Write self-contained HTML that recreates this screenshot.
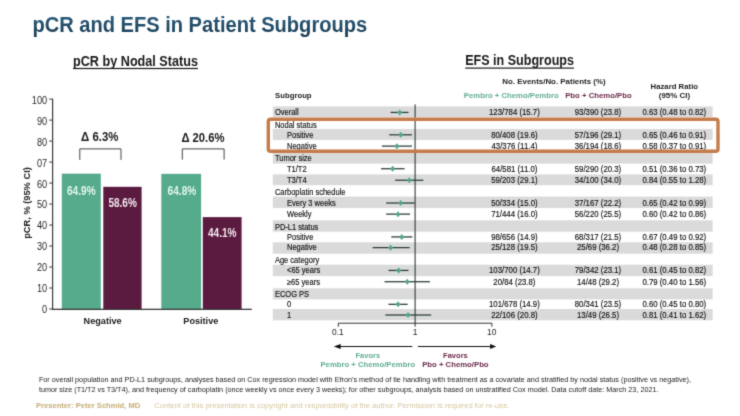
<!DOCTYPE html>
<html><head><meta charset="utf-8"><title>pCR and EFS in Patient Subgroups</title>
<style>html,body{margin:0;padding:0;background:#fff;}svg{display:block;}text{font-family:"Liberation Sans",Arial,sans-serif;}</style>
</head><body>
<svg width="740" height="416" viewBox="0 0 740 416">
<defs><filter id="soft" x="0" y="0" width="100%" height="100%" filterUnits="objectBoundingBox" color-interpolation-filters="sRGB"><feConvolveMatrix order="3" kernelMatrix="0.0192 0.1001 0.0192 0.1001 0.5228 0.1001 0.0192 0.1001 0.0192" edgeMode="duplicate" preserveAlpha="true"/></filter><linearGradient id="tg" gradientUnits="userSpaceOnUse" x1="0" y1="16" x2="0" y2="37"><stop offset="0" stop-color="#2b5b7b"/><stop offset="1" stop-color="#193c52"/></linearGradient></defs>
<g filter="url(#soft)">
<rect width="740" height="416" fill="#ffffff"/>
<text x="32.40" y="31.70" font-size="21.3" text-anchor="start" font-weight="bold" fill="url(#tg)" textLength="334.80" lengthAdjust="spacingAndGlyphs" >pCR and EFS in Patient Subgroups</text>
<text x="73.00" y="65.70" font-size="14.2" text-anchor="start" font-weight="bold" fill="#1a1a1a" textLength="125.00" lengthAdjust="spacingAndGlyphs" >pCR by Nodal Status</text>
<rect x="73" y="67.9" width="125" height="1.2" fill="#1a1a1a"/>
<text x="465.20" y="65.30" font-size="14.2" text-anchor="start" font-weight="bold" fill="#1a1a1a" textLength="108.80" lengthAdjust="spacingAndGlyphs" >EFS in Subgroups</text>
<rect x="465.2" y="67.5" width="108.8" height="1.2" fill="#1a1a1a"/>
<rect x="61.8" y="173.66" width="39.00" height="135.64" fill="#55ab8b"/>
<rect x="103.3" y="186.83" width="38.30" height="122.47" fill="#5b1a3f"/>
<rect x="161.3" y="173.87" width="39.80" height="135.43" fill="#55ab8b"/>
<rect x="202.8" y="217.13" width="38.80" height="92.17" fill="#5b1a3f"/>
<rect x="52" y="98.6" width="1.2" height="211.30" fill="#3a3a3a"/>
<rect x="52" y="308.70" width="199.80" height="1.3" fill="#3a3a3a"/>
<rect x="49.2" y="308.50" width="3" height="1" fill="#3a3a3a"/>
<text x="47.10" y="312.55" font-size="10.8" text-anchor="end" font-weight="normal" fill="#262626" textLength="5.10" lengthAdjust="spacingAndGlyphs" >0</text>
<rect x="49.2" y="287.51" width="3" height="1" fill="#3a3a3a"/>
<text x="47.10" y="291.73" font-size="10.8" text-anchor="end" font-weight="normal" fill="#262626" textLength="10.20" lengthAdjust="spacingAndGlyphs" >10</text>
<rect x="49.2" y="266.52" width="3" height="1" fill="#3a3a3a"/>
<text x="47.10" y="270.90" font-size="10.8" text-anchor="end" font-weight="normal" fill="#262626" textLength="10.20" lengthAdjust="spacingAndGlyphs" >20</text>
<rect x="49.2" y="245.53" width="3" height="1" fill="#3a3a3a"/>
<text x="47.10" y="250.08" font-size="10.8" text-anchor="end" font-weight="normal" fill="#262626" textLength="10.20" lengthAdjust="spacingAndGlyphs" >30</text>
<rect x="49.2" y="224.54" width="3" height="1" fill="#3a3a3a"/>
<text x="47.10" y="229.25" font-size="10.8" text-anchor="end" font-weight="normal" fill="#262626" textLength="10.20" lengthAdjust="spacingAndGlyphs" >40</text>
<rect x="49.2" y="203.55" width="3" height="1" fill="#3a3a3a"/>
<text x="47.10" y="208.43" font-size="10.8" text-anchor="end" font-weight="normal" fill="#262626" textLength="10.20" lengthAdjust="spacingAndGlyphs" >50</text>
<rect x="49.2" y="182.56" width="3" height="1" fill="#3a3a3a"/>
<text x="47.10" y="187.60" font-size="10.8" text-anchor="end" font-weight="normal" fill="#262626" textLength="10.20" lengthAdjust="spacingAndGlyphs" >60</text>
<rect x="49.2" y="161.57" width="3" height="1" fill="#3a3a3a"/>
<text x="47.10" y="166.78" font-size="10.8" text-anchor="end" font-weight="normal" fill="#262626" textLength="10.20" lengthAdjust="spacingAndGlyphs" >07</text>
<rect x="49.2" y="140.58" width="3" height="1" fill="#3a3a3a"/>
<text x="47.10" y="145.95" font-size="10.8" text-anchor="end" font-weight="normal" fill="#262626" textLength="10.20" lengthAdjust="spacingAndGlyphs" >80</text>
<rect x="49.2" y="119.59" width="3" height="1" fill="#3a3a3a"/>
<text x="47.10" y="125.12" font-size="10.8" text-anchor="end" font-weight="normal" fill="#262626" textLength="10.20" lengthAdjust="spacingAndGlyphs" >90</text>
<rect x="49.2" y="98.60" width="3" height="1" fill="#3a3a3a"/>
<text x="47.10" y="104.30" font-size="10.8" text-anchor="end" font-weight="normal" fill="#262626" textLength="15.30" lengthAdjust="spacingAndGlyphs" >100</text>
<text x="66.90" y="194.80" font-size="12" text-anchor="start" font-weight="bold" fill="#e2f6ec" textLength="28.80" lengthAdjust="spacingAndGlyphs" >64.9%</text>
<text x="108.40" y="206.90" font-size="12" text-anchor="start" font-weight="bold" fill="#f3e9ee" textLength="28.40" lengthAdjust="spacingAndGlyphs" >58.6%</text>
<text x="167.60" y="194.60" font-size="12" text-anchor="start" font-weight="bold" fill="#e2f6ec" textLength="28.70" lengthAdjust="spacingAndGlyphs" >64.8%</text>
<text x="208.00" y="236.90" font-size="12" text-anchor="start" font-weight="bold" fill="#f3e9ee" textLength="28.50" lengthAdjust="spacingAndGlyphs" >44.1%</text>
<text x="81.10" y="141.40" font-size="13.2" text-anchor="start" font-weight="bold" fill="#1a1a1a" textLength="37.30" lengthAdjust="spacingAndGlyphs" >Δ 6.3%</text>
<text x="181.40" y="141.70" font-size="13.2" text-anchor="start" font-weight="bold" fill="#1a1a1a" textLength="43.10" lengthAdjust="spacingAndGlyphs" >Δ 20.6%</text>
<path d="M79.8 159.9 V148.9 H121 V159.9" fill="none" stroke="#444" stroke-width="1"/>
<path d="M182.3 159.6 V148.9 H224.1 V159.6" fill="none" stroke="#444" stroke-width="1"/>
<text x="102.60" y="324.20" font-size="9" text-anchor="middle" font-weight="bold" fill="#1a1a1a" textLength="38.00" lengthAdjust="spacingAndGlyphs" >Negative</text>
<text x="200.80" y="324.20" font-size="9" text-anchor="middle" font-weight="bold" fill="#1a1a1a" textLength="35.00" lengthAdjust="spacingAndGlyphs" >Positive</text>
<text transform="translate(30.4,203) rotate(-90)" font-size="9.2" font-weight="bold" fill="#222" text-anchor="middle" textLength="71.6" lengthAdjust="spacingAndGlyphs">pCR, % (95% CI)</text>
<rect x="272.8" y="106.40" width="439.80" height="10.80" fill="#dadada"/>
<rect x="272.8" y="128.90" width="439.80" height="11.00" fill="#dadada"/>
<rect x="272.8" y="152.00" width="439.80" height="11.60" fill="#dadada"/>
<rect x="272.8" y="174.40" width="439.80" height="10.80" fill="#dadada"/>
<rect x="272.8" y="196.60" width="439.80" height="11.40" fill="#dadada"/>
<rect x="272.8" y="220.30" width="439.80" height="11.40" fill="#dadada"/>
<rect x="272.8" y="242.30" width="439.80" height="11.40" fill="#dadada"/>
<rect x="272.8" y="264.70" width="439.80" height="11.40" fill="#dadada"/>
<rect x="272.8" y="288.30" width="439.80" height="11.10" fill="#dadada"/>
<rect x="272.8" y="309.00" width="439.80" height="11.30" fill="#dadada"/>
<text transform="translate(274.90,115.20) scale(0.885,1)" font-size="8.5" text-anchor="start" font-weight="normal" fill="#111" stroke="#111" stroke-width="0.15">Overall</text>
<text transform="translate(514.40,115.20) scale(0.92,1)" font-size="8.5" text-anchor="middle" font-weight="normal" fill="#111" stroke="#111" stroke-width="0.15">123/784 (15.7)</text>
<text transform="translate(598.00,115.20) scale(0.92,1)" font-size="8.5" text-anchor="middle" font-weight="normal" fill="#111" stroke="#111" stroke-width="0.15">93/390 (23.8)</text>
<text transform="translate(674.30,115.20) scale(0.92,1)" font-size="8.5" text-anchor="middle" font-weight="normal" fill="#111" stroke="#111" stroke-width="0.15">0.63 (0.48 to 0.82)</text>
<rect x="390.62" y="111.80" width="17.86" height="1.25" fill="#2a3a38"/>
<path d="M397.19 112.45 L399.69 109.45 L402.19 112.45 L399.69 115.45 Z" fill="#55a688"/>
<text transform="translate(274.90,128.30) scale(0.885,1)" font-size="8.5" text-anchor="start" font-weight="normal" fill="#111" stroke="#111" stroke-width="0.15">Nodal status</text>
<text transform="translate(287.00,137.60) scale(0.885,1)" font-size="8.5" text-anchor="start" font-weight="normal" fill="#111" stroke="#111" stroke-width="0.15">Positive</text>
<text transform="translate(514.40,137.60) scale(0.92,1)" font-size="8.5" text-anchor="middle" font-weight="normal" fill="#111" stroke="#111" stroke-width="0.15">80/408 (19.6)</text>
<text transform="translate(598.00,137.60) scale(0.92,1)" font-size="8.5" text-anchor="middle" font-weight="normal" fill="#111" stroke="#111" stroke-width="0.15">57/196 (29.1)</text>
<text transform="translate(674.30,137.60) scale(0.92,1)" font-size="8.5" text-anchor="middle" font-weight="normal" fill="#111" stroke="#111" stroke-width="0.15">0.65 (0.46 to 0.91)</text>
<rect x="389.20" y="134.20" width="22.75" height="1.25" fill="#2a3a38"/>
<path d="M398.23 134.85 L400.73 131.85 L403.23 134.85 L400.73 137.85 Z" fill="#55a688"/>
<text transform="translate(287.00,148.90) scale(0.885,1)" font-size="8.5" text-anchor="start" font-weight="normal" fill="#111" stroke="#111" stroke-width="0.15">Negative</text>
<text transform="translate(514.40,148.90) scale(0.92,1)" font-size="8.5" text-anchor="middle" font-weight="normal" fill="#111" stroke="#111" stroke-width="0.15">43/376 (11.4)</text>
<text transform="translate(598.00,148.90) scale(0.92,1)" font-size="8.5" text-anchor="middle" font-weight="normal" fill="#111" stroke="#111" stroke-width="0.15">36/194 (18.6)</text>
<text transform="translate(674.30,148.90) scale(0.92,1)" font-size="8.5" text-anchor="middle" font-weight="normal" fill="#111" stroke="#111" stroke-width="0.15">0.58 (0.37 to 0.91)</text>
<rect x="381.94" y="145.50" width="30.02" height="1.25" fill="#2a3a38"/>
<path d="M394.43 146.15 L396.93 143.15 L399.43 146.15 L396.93 149.15 Z" fill="#55a688"/>
<text transform="translate(274.90,161.20) scale(0.885,1)" font-size="8.5" text-anchor="start" font-weight="normal" fill="#111" stroke="#111" stroke-width="0.15">Tumor size</text>
<text transform="translate(287.00,171.50) scale(0.885,1)" font-size="8.5" text-anchor="start" font-weight="normal" fill="#111" stroke="#111" stroke-width="0.15">T1/T2</text>
<text transform="translate(514.40,171.50) scale(0.92,1)" font-size="8.5" text-anchor="middle" font-weight="normal" fill="#111" stroke="#111" stroke-width="0.15">64/581 (11.0)</text>
<text transform="translate(598.00,171.50) scale(0.92,1)" font-size="8.5" text-anchor="middle" font-weight="normal" fill="#111" stroke="#111" stroke-width="0.15">59/290 (20.3)</text>
<text transform="translate(674.30,171.50) scale(0.92,1)" font-size="8.5" text-anchor="middle" font-weight="normal" fill="#111" stroke="#111" stroke-width="0.15">0.51 (0.36 to 0.73)</text>
<rect x="381.02" y="168.10" width="23.58" height="1.25" fill="#2a3a38"/>
<path d="M390.14 168.75 L392.64 165.75 L395.14 168.75 L392.64 171.75 Z" fill="#55a688"/>
<text transform="translate(287.00,183.00) scale(0.885,1)" font-size="8.5" text-anchor="start" font-weight="normal" fill="#111" stroke="#111" stroke-width="0.15">T3/T4</text>
<text transform="translate(514.40,183.00) scale(0.92,1)" font-size="8.5" text-anchor="middle" font-weight="normal" fill="#111" stroke="#111" stroke-width="0.15">59/203 (29.1)</text>
<text transform="translate(598.00,183.00) scale(0.92,1)" font-size="8.5" text-anchor="middle" font-weight="normal" fill="#111" stroke="#111" stroke-width="0.15">34/100 (34.0)</text>
<text transform="translate(674.30,183.00) scale(0.92,1)" font-size="8.5" text-anchor="middle" font-weight="normal" fill="#111" stroke="#111" stroke-width="0.15">0.84 (0.55 to 1.28)</text>
<rect x="395.16" y="179.60" width="28.17" height="1.25" fill="#2a3a38"/>
<path d="M406.78 180.25 L409.28 177.25 L411.78 180.25 L409.28 183.25 Z" fill="#55a688"/>
<text transform="translate(274.90,195.30) scale(0.885,1)" font-size="8.5" text-anchor="start" font-weight="normal" fill="#111" stroke="#111" stroke-width="0.15">Carboplatin schedule</text>
<text transform="translate(287.00,205.80) scale(0.885,1)" font-size="8.5" text-anchor="start" font-weight="normal" fill="#111" stroke="#111" stroke-width="0.15">Every 3 weeks</text>
<text transform="translate(514.40,205.80) scale(0.92,1)" font-size="8.5" text-anchor="middle" font-weight="normal" fill="#111" stroke="#111" stroke-width="0.15">50/334 (15.0)</text>
<text transform="translate(598.00,205.80) scale(0.92,1)" font-size="8.5" text-anchor="middle" font-weight="normal" fill="#111" stroke="#111" stroke-width="0.15">37/167 (22.2)</text>
<text transform="translate(674.30,205.80) scale(0.92,1)" font-size="8.5" text-anchor="middle" font-weight="normal" fill="#111" stroke="#111" stroke-width="0.15">0.65 (0.42 to 0.99)</text>
<rect x="386.17" y="202.40" width="28.60" height="1.25" fill="#2a3a38"/>
<path d="M398.23 203.05 L400.73 200.05 L403.23 203.05 L400.73 206.05 Z" fill="#55a688"/>
<text transform="translate(287.00,216.90) scale(0.885,1)" font-size="8.5" text-anchor="start" font-weight="normal" fill="#111" stroke="#111" stroke-width="0.15">Weekly</text>
<text transform="translate(514.40,216.90) scale(0.92,1)" font-size="8.5" text-anchor="middle" font-weight="normal" fill="#111" stroke="#111" stroke-width="0.15">71/444 (16.0)</text>
<text transform="translate(598.00,216.90) scale(0.92,1)" font-size="8.5" text-anchor="middle" font-weight="normal" fill="#111" stroke="#111" stroke-width="0.15">56/220 (25.5)</text>
<text transform="translate(674.30,216.90) scale(0.92,1)" font-size="8.5" text-anchor="middle" font-weight="normal" fill="#111" stroke="#111" stroke-width="0.15">0.60 (0.42 to 0.86)</text>
<rect x="386.17" y="213.50" width="23.90" height="1.25" fill="#2a3a38"/>
<path d="M395.56 214.15 L398.06 211.15 L400.56 214.15 L398.06 217.15 Z" fill="#55a688"/>
<text transform="translate(274.90,229.60) scale(0.885,1)" font-size="8.5" text-anchor="start" font-weight="normal" fill="#111" stroke="#111" stroke-width="0.15">PD-L1 status</text>
<text transform="translate(287.00,239.70) scale(0.885,1)" font-size="8.5" text-anchor="start" font-weight="normal" fill="#111" stroke="#111" stroke-width="0.15">Positive</text>
<text transform="translate(514.40,239.70) scale(0.92,1)" font-size="8.5" text-anchor="middle" font-weight="normal" fill="#111" stroke="#111" stroke-width="0.15">98/656 (14.9)</text>
<text transform="translate(598.00,239.70) scale(0.92,1)" font-size="8.5" text-anchor="middle" font-weight="normal" fill="#111" stroke="#111" stroke-width="0.15">68/317 (21.5)</text>
<text transform="translate(674.30,239.70) scale(0.92,1)" font-size="8.5" text-anchor="middle" font-weight="normal" fill="#111" stroke="#111" stroke-width="0.15">0.67 (0.49 to 0.92)</text>
<rect x="391.31" y="236.30" width="21.01" height="1.25" fill="#2a3a38"/>
<path d="M399.24 236.95 L401.74 233.95 L404.24 236.95 L401.74 239.95 Z" fill="#55a688"/>
<text transform="translate(287.00,250.40) scale(0.885,1)" font-size="8.5" text-anchor="start" font-weight="normal" fill="#111" stroke="#111" stroke-width="0.15">Negative</text>
<text transform="translate(514.40,250.40) scale(0.92,1)" font-size="8.5" text-anchor="middle" font-weight="normal" fill="#111" stroke="#111" stroke-width="0.15">25/128 (19.5)</text>
<text transform="translate(598.00,250.40) scale(0.92,1)" font-size="8.5" text-anchor="middle" font-weight="normal" fill="#111" stroke="#111" stroke-width="0.15">25/69 (36.2)</text>
<text transform="translate(674.30,250.40) scale(0.92,1)" font-size="8.5" text-anchor="middle" font-weight="normal" fill="#111" stroke="#111" stroke-width="0.15">0.48 (0.28 to 0.85)</text>
<rect x="372.64" y="247.00" width="37.04" height="1.25" fill="#2a3a38"/>
<path d="M388.12 247.65 L390.62 244.65 L393.12 247.65 L390.62 250.65 Z" fill="#55a688"/>
<text transform="translate(274.90,262.90) scale(0.885,1)" font-size="8.5" text-anchor="start" font-weight="normal" fill="#111" stroke="#111" stroke-width="0.15">Age category</text>
<text transform="translate(287.00,273.20) scale(0.885,1)" font-size="8.5" text-anchor="start" font-weight="normal" fill="#111" stroke="#111" stroke-width="0.15">&lt;65 years</text>
<text transform="translate(514.40,273.20) scale(0.92,1)" font-size="8.5" text-anchor="middle" font-weight="normal" fill="#111" stroke="#111" stroke-width="0.15">103/700 (14.7)</text>
<text transform="translate(598.00,273.20) scale(0.92,1)" font-size="8.5" text-anchor="middle" font-weight="normal" fill="#111" stroke="#111" stroke-width="0.15">79/342 (23.1)</text>
<text transform="translate(674.30,273.20) scale(0.92,1)" font-size="8.5" text-anchor="middle" font-weight="normal" fill="#111" stroke="#111" stroke-width="0.15">0.61 (0.45 to 0.82)</text>
<rect x="388.47" y="269.80" width="20.01" height="1.25" fill="#2a3a38"/>
<path d="M396.11 270.45 L398.61 267.45 L401.11 270.45 L398.61 273.45 Z" fill="#55a688"/>
<text transform="translate(287.00,284.50) scale(0.885,1)" font-size="8.5" text-anchor="start" font-weight="normal" fill="#111" stroke="#111" stroke-width="0.15">≥65 years</text>
<text transform="translate(514.40,284.50) scale(0.92,1)" font-size="8.5" text-anchor="middle" font-weight="normal" fill="#111" stroke="#111" stroke-width="0.15">20/84 (23.8)</text>
<text transform="translate(598.00,284.50) scale(0.92,1)" font-size="8.5" text-anchor="middle" font-weight="normal" fill="#111" stroke="#111" stroke-width="0.15">14/48 (29.2)</text>
<text transform="translate(674.30,284.50) scale(0.92,1)" font-size="8.5" text-anchor="middle" font-weight="normal" fill="#111" stroke="#111" stroke-width="0.15">0.79 (0.40 to 1.56)</text>
<rect x="384.54" y="281.10" width="45.39" height="1.25" fill="#2a3a38"/>
<path d="M404.74 281.75 L407.24 278.75 L409.74 281.75 L407.24 284.75 Z" fill="#55a688"/>
<text transform="translate(274.90,296.80) scale(0.885,1)" font-size="8.5" text-anchor="start" font-weight="normal" fill="#111" stroke="#111" stroke-width="0.15">ECOG PS</text>
<text transform="translate(287.00,307.10) scale(0.885,1)" font-size="8.5" text-anchor="start" font-weight="normal" fill="#111" stroke="#111" stroke-width="0.15">0</text>
<text transform="translate(514.40,307.10) scale(0.92,1)" font-size="8.5" text-anchor="middle" font-weight="normal" fill="#111" stroke="#111" stroke-width="0.15">101/678 (14.9)</text>
<text transform="translate(598.00,307.10) scale(0.92,1)" font-size="8.5" text-anchor="middle" font-weight="normal" fill="#111" stroke="#111" stroke-width="0.15">80/341 (23.5)</text>
<text transform="translate(674.30,307.10) scale(0.92,1)" font-size="8.5" text-anchor="middle" font-weight="normal" fill="#111" stroke="#111" stroke-width="0.15">0.60 (0.45 to 0.80)</text>
<rect x="388.47" y="303.70" width="19.19" height="1.25" fill="#2a3a38"/>
<path d="M395.56 304.35 L398.06 301.35 L400.56 304.35 L398.06 307.35 Z" fill="#55a688"/>
<text transform="translate(287.00,317.80) scale(0.885,1)" font-size="8.5" text-anchor="start" font-weight="normal" fill="#111" stroke="#111" stroke-width="0.15">1</text>
<text transform="translate(514.40,317.80) scale(0.92,1)" font-size="8.5" text-anchor="middle" font-weight="normal" fill="#111" stroke="#111" stroke-width="0.15">22/106 (20.8)</text>
<text transform="translate(598.00,317.80) scale(0.92,1)" font-size="8.5" text-anchor="middle" font-weight="normal" fill="#111" stroke="#111" stroke-width="0.15">13/49 (26.5)</text>
<text transform="translate(674.30,317.80) scale(0.92,1)" font-size="8.5" text-anchor="middle" font-weight="normal" fill="#111" stroke="#111" stroke-width="0.15">0.81 (0.41 to 1.62)</text>
<rect x="385.36" y="314.40" width="45.83" height="1.25" fill="#2a3a38"/>
<path d="M405.57 315.05 L408.07 312.05 L410.57 315.05 L408.07 318.05 Z" fill="#55a688"/>
<rect x="414.55" y="104.4" width="1.1" height="222.20" fill="#2c383a"/>
<rect x="268.3" y="119.3" width="449.7" height="32" rx="2.2" ry="2.2" fill="none" stroke="#c57c4b" stroke-width="3.4"/>
<text x="275.10" y="97.90" font-size="8.0" text-anchor="start" font-weight="bold" fill="#1a1a1a" textLength="36.50" lengthAdjust="spacingAndGlyphs" >Subgroup</text>
<text x="502.30" y="83.90" font-size="7.8" text-anchor="start" font-weight="bold" fill="#222" textLength="103.30" lengthAdjust="spacingAndGlyphs" >No. Events/No. Patients (%)</text>
<text x="463.80" y="98.10" font-size="7.8" text-anchor="start" font-weight="bold" fill="#5fae90" textLength="94.90" lengthAdjust="spacingAndGlyphs" >Pembro + Chemo/Pembro</text>
<text x="565.20" y="98.10" font-size="7.8" text-anchor="start" font-weight="bold" fill="#6b2a4a" textLength="66.50" lengthAdjust="spacingAndGlyphs" >Pbo + Chemo/Pbo</text>
<text x="674.30" y="89.00" font-size="7.8" text-anchor="middle" font-weight="bold" fill="#222" textLength="47.50" lengthAdjust="spacingAndGlyphs" >Hazard Ratio</text>
<text x="674.40" y="98.10" font-size="7.8" text-anchor="middle" font-weight="bold" fill="#222" textLength="31.30" lengthAdjust="spacingAndGlyphs" >(95% CI)</text>
<path d="M338.3 326.7 V323.2 H491.9 V326.7" fill="none" stroke="#333" stroke-width="1"/>
<text x="337.90" y="335.20" font-size="8.4" text-anchor="middle" font-weight="normal" fill="#222" >0.1</text>
<text x="415.10" y="335.20" font-size="8.4" text-anchor="middle" font-weight="normal" fill="#222" >1</text>
<text x="491.70" y="335.20" font-size="8.4" text-anchor="middle" font-weight="normal" fill="#222" >10</text>
<path d="M340 346.5 H412.3 M418 346.5 H490.5" stroke="#111" stroke-width="1.2" fill="none"/>
<path d="M333.7 346.5 L340.7 344 L340.7 349 Z" fill="#111"/>
<path d="M496.2 346.5 L490.1 344 L490.1 349 Z" fill="#111"/>
<text x="367.80" y="358.20" font-size="8" text-anchor="middle" font-weight="bold" fill="#5fae90" textLength="24.50" lengthAdjust="spacingAndGlyphs" >Favors</text>
<text x="367.80" y="367.40" font-size="8" text-anchor="middle" font-weight="bold" fill="#5fae90" textLength="94.70" lengthAdjust="spacingAndGlyphs" >Pembro + Chemo/Pembro</text>
<text x="455.40" y="358.20" font-size="8" text-anchor="middle" font-weight="bold" fill="#6b2a4a" textLength="24.70" lengthAdjust="spacingAndGlyphs" >Favors</text>
<text x="455.40" y="367.40" font-size="8" text-anchor="middle" font-weight="bold" fill="#6b2a4a" textLength="66.40" lengthAdjust="spacingAndGlyphs" >Pbo + Chemo/Pbo</text>
<text x="38.90" y="382.30" font-size="7.5" text-anchor="start" font-weight="normal" fill="#222" textLength="652.10" lengthAdjust="spacingAndGlyphs" >For overall population and PD-L1 subgroups, analyses based on Cox regression model with Efron’s method of tie handling with treatment as a covariate and stratified by nodal status (positive vs negative),</text>
<text x="38.90" y="392.40" font-size="7.5" text-anchor="start" font-weight="normal" fill="#222" textLength="619.60" lengthAdjust="spacingAndGlyphs" >tumor size (T1/T2 vs T3/T4), and frequency of carboplatin (once weekly vs once every 3 weeks); for other subgroups, analysis based on unstratified Cox model. Data cutoff date: March 23, 2021.</text>
<text x="36.00" y="407.90" font-size="7.6" text-anchor="start" font-weight="bold" fill="#c5ae76" textLength="104.30" lengthAdjust="spacingAndGlyphs" >Presenter: Peter Schmid, MD</text>
<text x="154.30" y="407.90" font-size="7.6" text-anchor="start" font-weight="normal" fill="#d7c79e" textLength="355.20" lengthAdjust="spacingAndGlyphs" >Content of this presentation is copyright and responsibility of the author. Permission is required for re-use.</text>
</g>
</svg>
</body></html>
